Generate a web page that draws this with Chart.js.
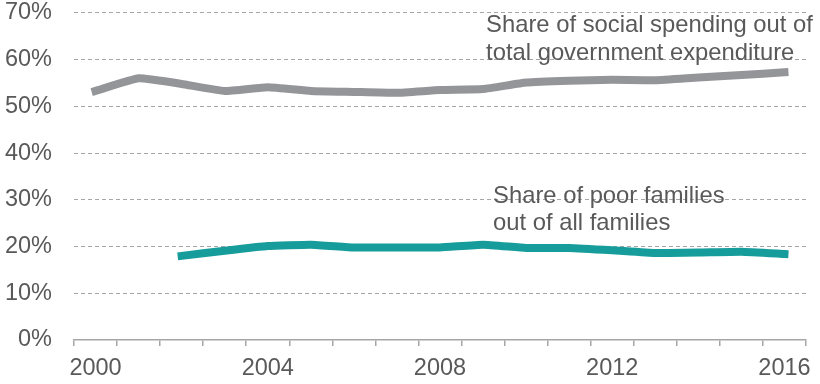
<!DOCTYPE html>
<html>
<head>
<meta charset="utf-8">
<script src="https://cdn.jsdelivr.net/npm/chart.js@4.4.1/dist/chart.umd.min.js"></script>
<style>
  html, body { margin: 0; padding: 0; background: #ffffff; }
  #wrap { width: 820px; height: 384px; position: relative; }
</style>
</head>
<body>
<div id="wrap"><canvas id="chart" width="820" height="384"></canvas></div>
<script>
// Years on the horizontal axis
const years = ['2000','2001','2002','2003','2004','2005','2006','2007','2008',
               '2009','2010','2011','2012','2013','2014','2015','2016'];
// Years that carry a visible tick label
const labelledYears = ['2000','2004','2008','2012','2016'];

// Share of social spending out of total government expenditure (%)
const socialSpendingShare = [53.3, 56.0, 54.8, 53.3, 54.1, 53.3, 53.1, 52.9, 53.5,
                             53.7, 55.1, 55.5, 55.7, 55.6, 56.2, 56.7, 57.3];
// Share of poor families out of all families (%)
const poorFamiliesShare = [null, null, 18.0, 19.1, 20.1, 20.4, 19.8, 19.8, 19.8,
                           20.4, 19.7, 19.7, 19.2, 18.6, 18.7, 18.9, 18.4];

// Y axis range and step (%)
const yMin = 0, yMax = 70, yStep = 10;

// Series captions: text lines, the category they start near, and the value each baseline sits on
const spendingCaption = ['Share of social spending out of', 'total government expenditure'];
const spendingCaptionYear = '2009';
const spendingCaptionBaselines = [66.0, 60.0];
const poorCaption = ['Share of poor families', 'out of all families'];
const poorCaptionYear = '2009';
const poorCaptionBaselines = [29.4, 23.5];

const TEXT = '#595959';
const FONT = '"Liberation Sans", Arial, sans-serif';

const captionPlugin = {
  id: 'seriesCaptions',
  afterDatasetsDraw(chart) {
    const ctx = chart.ctx;
    const xs = chart.scales.x, ys = chart.scales.y;
    ctx.save();
    ctx.fillStyle = TEXT;
    ctx.font = '23.8px ' + FONT;
    ctx.textAlign = 'left';
    ctx.textBaseline = 'alphabetic';
    const put = (lines, yr, baselines, dx) => {
      const x0 = xs.getPixelForValue(years.indexOf(yr)) + dx;
      lines.forEach((t, i) => ctx.fillText(t, x0, ys.getPixelForValue(baselines[i])));
    };
    put(spendingCaption, spendingCaptionYear, spendingCaptionBaselines, 3);
    put(poorCaption, poorCaptionYear, poorCaptionBaselines, 10);
    ctx.restore();
  }
};

new Chart(document.getElementById('chart'), {
  type: 'line',
  data: {
    labels: years,
    datasets: [
      {
        label: 'Share of social spending out of total government expenditure',
        data: socialSpendingShare,
        borderColor: '#939598',
        borderWidth: 8,
        borderCapStyle: 'square',
        pointRadius: 0,
        tension: 0.12,
        fill: false
      },
      {
        label: 'Share of poor families out of all families',
        data: poorFamiliesShare,
        borderColor: '#179c9c',
        borderWidth: 8,
        borderCapStyle: 'square',
        pointRadius: 0,
        tension: 0.12,
        fill: false,
        spanGaps: false
      }
    ]
  },
  options: {
    responsive: false,
    animation: false,
    devicePixelRatio: 1,
    layout: { padding: { top: 0, right: 14, left: 0, bottom: 0 } },
    plugins: {
      legend: { display: false },
      tooltip: { enabled: false }
    },
    scales: {
      x: {
        type: 'category',
        offset: true,
        grid: {
          offset: true,
          drawOnChartArea: false,
          drawTicks: true,
          tickLength: 6,
          color: '#a6a6a6',
          lineWidth: 1.5
        },
        border: { display: true, color: '#a6a6a6', width: 1.5 },
        ticks: {
          autoSkip: false,
          maxRotation: 0,
          minRotation: 0,
          padding: 8,
          color: TEXT,
          font: { family: FONT, size: 23.5 },
          callback(value, index) {
            const lab = years[index];
            return labelledYears.includes(lab) ? lab : '';
          }
        },
        afterFit(scale) { scale.height = 44; }
      },
      y: {
        min: yMin,
        max: yMax,
        grid: {
          drawTicks: true,
          tickLength: 22,
          tickColor: 'rgba(0,0,0,0)',
          color: (c) => c.tick.value === 0 ? 'rgba(0,0,0,0)' : '#a6a6a6',
          lineWidth: 1
        },
        border: { display: false, dash: [4, 3] },
        ticks: {
          stepSize: yStep,
          padding: 0,
          color: TEXT,
          font: { family: FONT, size: 23.5, lineHeight: 1.1 },
          callback: (v) => v + '%'
        },
        afterFit(scale) { scale.width = 74; }
      }
    }
  },
  plugins: [captionPlugin]
});
</script>
</body>
</html>
